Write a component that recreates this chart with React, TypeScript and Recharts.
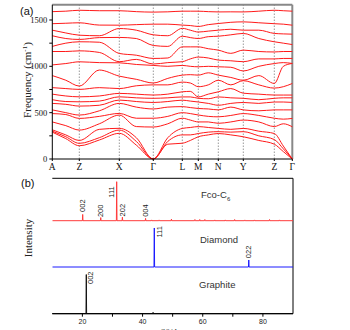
import React from "react";
import { LineChart, Line, XAxis, YAxis, ReferenceLine } from "recharts";

const SERIF = "'Liberation Serif', 'Times New Roman', serif";
const SANS = "'Liberation Sans', Arial, sans-serif";

// (a) phonon bands: path positions and high-symmetry points
const kPos = [0, 13.5, 27, 47, 67, 84, 101, 115.5, 130, 138, 146, 156, 166, 178.5, 191, 206.5, 222, 231, 240];
const kTicks = [0, 27, 67, 101, 130, 146, 166, 191, 222, 240];
const kLabels = ["A", "Z", "X", "Γ", "L", "M", "N", "Y", "Z", "Γ"];
const freqTicks = [0, 250, 500, 750, 1000, 1250, 1500];

// frequencies (cm-1) of the 18 branches at each k sample, low to high
const freqAt = [
  [290, 300, 315, 400, 490, 530, 600, 640, 700, 770, 900, 1015, 1160, 1215, 1330, 1390, 1460, 1590],
  [220, 240, 260, 360, 480, 500, 590, 620, 680, 760, 850, 1030, 1160, 1250, 1300, 1360, 1465, 1595],
  [143, 169, 200, 312, 438, 474, 571, 617, 671, 751, 787, 1049, 1167, 1265, 1290, 1336, 1470, 1605],
  [205, 230, 320, 380, 460, 520, 580, 625, 680, 770, 960, 1040, 1150, 1260, 1310, 1330, 1445, 1600],
  [277, 312, 331, 474, 492, 600, 636, 671, 708, 760, 894, 1038, 1050, 1139, 1312, 1408, 1444, 1600],
  [150, 190, 230, 350, 440, 560, 620, 660, 700, 790, 860, 1020, 1075, 1120, 1300, 1390, 1450, 1590],
  [0, 0, 0, 345, 440, 540, 610, 655, 690, 800, 820, 1010, 1025, 1085, 1225, 1340, 1455, 1585],
  [160, 190, 230, 380, 460, 560, 620, 660, 700, 800, 870, 1000, 1040, 1090, 1215, 1330, 1455, 1588],
  [170, 260, 330, 440, 500, 565, 635, 670, 725, 830, 905, 1010, 1050, 1210, 1325, 1410, 1445, 1595],
  [200, 260, 340, 420, 490, 555, 625, 670, 730, 820, 910, 1000, 1080, 1210, 1310, 1390, 1440, 1595],
  [240, 275, 350, 400, 475, 545, 615, 655, 670, 780, 905, 995, 1100, 1210, 1300, 1370, 1430, 1595],
  [260, 290, 340, 400, 460, 540, 600, 650, 700, 800, 930, 1000, 1090, 1190, 1320, 1380, 1450, 1590],
  [275, 295, 330, 385, 455, 530, 580, 670, 725, 850, 905, 995, 1067, 1175, 1325, 1390, 1462, 1587],
  [260, 290, 320, 400, 470, 560, 600, 660, 760, 800, 880, 990, 1060, 1140, 1340, 1400, 1475, 1588],
  [240, 295, 330, 420, 490, 530, 610, 655, 710, 845, 850, 950, 1050, 1175, 1355, 1390, 1480, 1587],
  [200, 250, 300, 400, 470, 520, 600, 640, 700, 800, 900, 1000, 1080, 1160, 1300, 1390, 1470, 1595],
  [160, 210, 275, 350, 440, 530, 615, 655, 690, 765, 815, 1030, 1080, 1155, 1265, 1355, 1460, 1605],
  [80, 110, 140, 380, 430, 530, 615, 660, 690, 780, 1000, 1040, 1085, 1160, 1250, 1350, 1455, 1600],
  [0, 0, 0, 348, 438, 530, 611, 660, 690, 815, 1031, 1031, 1085, 1160, 1235, 1347, 1444, 1595],
];

// (b) XRD peaks: 2theta (deg), relative intensity, index label
const fcoPos = [20.1, 26.1, 31.4, 33.3, 41.0, 43.0, 45.5, 49.6, 57.4, 59.0, 60.7, 64.0, 67.5, 70.6, 74.0, 77.2, 82.2, 85.5];
const fcoInt = [16, 8, 100, 9, 6, 2, 2, 4, 3, 3, 3, 2, 2, 3, 2, 2, 3, 2];
const fcoHkl = ["002", "200", "111", "202", "004", "", "", "", "", "", "", "", "", "", "", "", "", ""];

const diaPos = [43.9, 75.3];
const diaInt = [100, 18];
const diaHkl = ["111", "022"];

const graPos = [21.3, 43.5];
const graInt = [100, 3];
const graHkl = ["002", ""];

const twoThetaTicks = [20, 30, 40, 50, 60, 70, 80];

const bandRows = kPos.map((k, i) => {
  const row: Record<string, number> = { k };
  freqAt[i].forEach((f, j) => {
    row["b" + j] = f;
  });
  return row;
});

const buildPattern = (pos: number[], inten: number[], hkl: string[]) => {
  const pts: { x: number; y: number; hkl?: string }[] = [{ x: 10, y: 0 }];
  pos.forEach((p, i) => {
    pts.push({ x: p - 0.1, y: 0 });
    pts.push({ x: p, y: inten[i], hkl: hkl[i] });
    pts.push({ x: p + 0.1, y: 0 });
  });
  pts.push({ x: 90, y: 0 });
  return pts;
};

const fcoData = buildPattern(fcoPos, fcoInt, fcoHkl);
const diaData = buildPattern(diaPos, diaInt, diaHkl);
const graData = buildPattern(graPos, graInt, graHkl);

// label placement relative to peak top: dx, dy (start of rotated text)
const labelShift: Record<string, [number, number]> = {
  "fco-002": [0, -2.5],
  "fco-200": [0, -0.5],
  "fco-111": [-5, 16],
  "fco-202": [0, -0.8],
  "fco-004": [0, -1.5],
  "dia-111": [5, 9.5],
  "dia-022": [0, -1.8],
  "gra-002": [4, 9.5],
};

const peakLabel = (data: { hkl?: string }[], tag: string) => (p: any) => {
  const idx = p.index;
  const hkl = idx != null && data[idx] ? data[idx].hkl : undefined;
  if (!hkl) return <g key={"n" + idx} />;
  const x = p.x ?? p.viewBox?.x;
  const y = p.y ?? p.viewBox?.y;
  const [dx, dy] = labelShift[tag + "-" + hkl] || [0, -2];
  return (
    <text
      key={"l" + idx}
      transform={`translate(${x + dx},${y + dy}) rotate(-90)`}
      textAnchor="start"
      dominantBaseline="central"
      fontSize={7.5}
      fontFamily={SANS}
      fill="#222"
    >
      {hkl}
    </text>
  );
};

const FreqTitle = () => (
  <text transform="translate(31,80) rotate(-90)" textAnchor="middle" fontSize={11} fontFamily={SERIF} fill="#222">
    Frequency (cm
    <tspan dy={-4} fontSize={7}>
      -1
    </tspan>
    <tspan dy={4}>)</tspan>
  </text>
);

// coordinates inside the lower chart's own svg (which starts at page y = 170)
const IntTitle = () => (
  <text transform="translate(32,68) rotate(-90)" textAnchor="middle" fontSize={11} fontFamily={SERIF} fill="#222">
    Intensity
  </text>
);

const App = () => {
  return (
    <div style={{ position: "absolute", left: 0, top: 0, width: 350, height: 330, background: "#fff", overflow: "hidden" }}>
      <div style={{ position: "absolute", left: 0, top: 0 }}>
        <LineChart width={350} height={178} data={bandRows} margin={{ top: 4.7, right: 57.7, bottom: 3, left: 0 }}>
          <XAxis
            dataKey="k"
            type="number"
            domain={[0, 240]}
            ticks={kTicks}
            interval={0}
            tickFormatter={(v: number, i: number) => kLabels[i]}
            tickSize={2}
            height={16}
            stroke="#000"
            tick={{ fontSize: 9.5, fontFamily: SERIF, fill: "#111" }}
          />
          <YAxis
            type="number"
            domain={[0, 1665]}
            ticks={freqTicks}
            interval={0}
            width={52.3}
            tickSize={3}
            stroke="#000"
            tickFormatter={(v: number) => (v % 500 === 0 ? String(v) : "")}
            tick={{ fontSize: 8.5, fontFamily: SERIF, fill: "#111" }}
            label={<FreqTitle />}
          />
          {kTicks.slice(1, -1).map((k, i) => (
            <ReferenceLine key={"v" + i} x={k} stroke="#999" strokeDasharray="1.5 1.5" />
          ))}
          <ReferenceLine y={1665} stroke="#888" strokeWidth={2} />
          <ReferenceLine x={240} stroke="#888" strokeWidth={2} />
          {freqAt[0].map((_, j) => (
            <Line
              key={"b" + j}
              dataKey={"b" + j}
              type="monotone"
              stroke="#ff1a1a"
              strokeWidth={1}
              dot={false}
              isAnimationActive={false}
            />
          ))}
        </LineChart>
      </div>

      <div style={{ position: "absolute", left: 0, top: 170 }}>
        <LineChart width={350} height={175} margin={{ top: 8.3, right: 57, bottom: 1.3, left: 0 }}>
          <XAxis
            dataKey="x"
            type="number"
            domain={[10, 90]}
            ticks={twoThetaTicks}
            interval={0}
            allowDataOverflow
            height={30}
            tickSize={3}
            stroke="#000"
            tickFormatter={(v: number) => (v % 20 === 0 ? String(v) : "")}
            tick={{ fontSize: 7, fontFamily: SANS, fill: "#222" }}
            label={{
              value: "2θ/deg",
              position: "insideBottom",
              offset: 9,
              style: { fontSize: 9, fontFamily: SERIF, fontStyle: "italic", fill: "#222" },
            }}
          />
          <YAxis
            yAxisId="gra"
            domain={[-0.5, 347]}
            allowDataOverflow
            tick={false}
            tickLine={false}
            width={52.3}
            stroke="#000"
            label={<IntTitle />}
          />
          <YAxis yAxisId="fco" hide domain={[-238.5, 108.7]} allowDataOverflow />
          <YAxis yAxisId="dia" hide domain={[-119.7, 227.4]} allowDataOverflow />
          <ReferenceLine yAxisId="gra" y={347} stroke="#000" />
          <ReferenceLine yAxisId="gra" x={90} stroke="#000" />
          <ReferenceLine yAxisId="gra" y={-0.5} stroke="#000" />
          <Line
            data={fcoData}
            yAxisId="fco"
            dataKey="y"
            type="linear"
            stroke="#ff3b3b"
            strokeWidth={1}
            dot={false}
            isAnimationActive={false}
            label={peakLabel(fcoData, "fco")}
          />
          <Line
            data={diaData}
            yAxisId="dia"
            dataKey="y"
            type="linear"
            stroke="#1a1aff"
            strokeWidth={1}
            dot={false}
            isAnimationActive={false}
            label={peakLabel(diaData, "dia")}
          />
          <Line
            data={graData}
            yAxisId="gra"
            dataKey="y"
            type="linear"
            stroke="#111"
            strokeWidth={1}
            dot={false}
            isAnimationActive={false}
            label={peakLabel(graData, "gra")}
          />
        </LineChart>
      </div>

      <svg width={350} height={330} style={{ position: "absolute", left: 0, top: 0, pointerEvents: "none" }}>
        <text x={20} y={15} fontSize={11} fontFamily={SANS} fill="#111">
          (a)
        </text>
        <text x={21} y={187} fontSize={11} fontFamily={SANS} fill="#111">
          (b)
        </text>
        <text x={201} y={198} fontSize={9.5} fontFamily={SANS} fill="#333">
          Fco-C
          <tspan dy={2.5} fontSize={6}>
            6
          </tspan>
        </text>
        <text x={200} y={242.5} fontSize={9.5} fontFamily={SANS} fill="#333">
          Diamond
        </text>
        <text x={199} y={288} fontSize={9.5} fontFamily={SANS} fill="#333">
          Graphite
        </text>
      </svg>
    </div>
  );
};

export default App;
